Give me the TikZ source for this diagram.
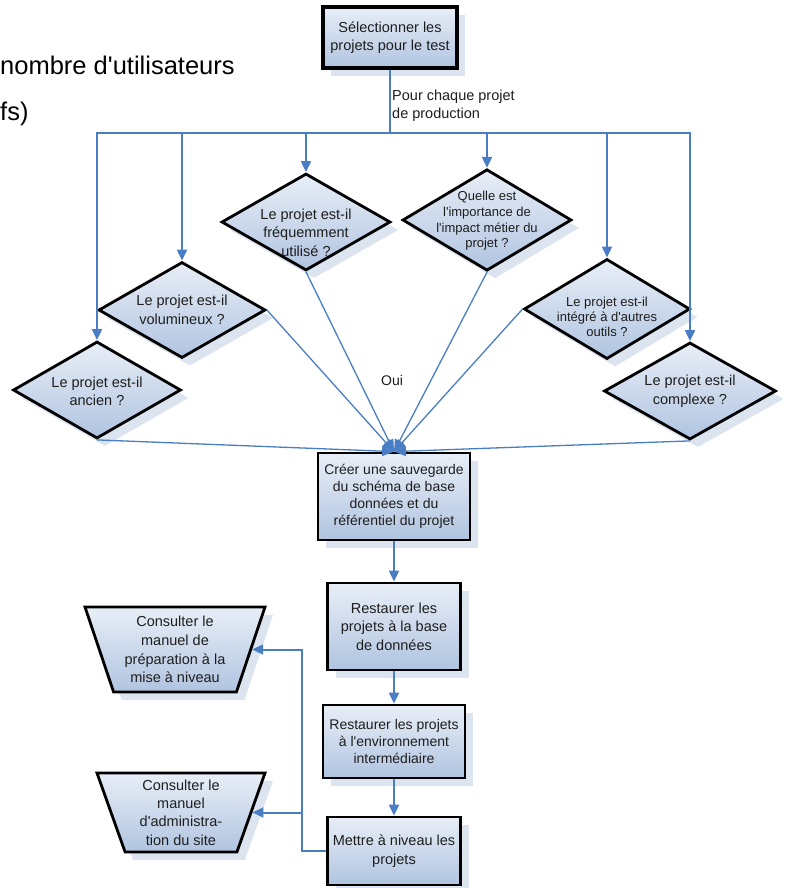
\documentclass[tikz,border=0pt]{standalone}
\usepackage{fontspec}
\setmainfont{Liberation Sans}
\newfontfamily\af{Liberation Sans}
\usetikzlibrary{shapes.geometric,arrows.meta,shadows}
\definecolor{lineblue}{HTML}{4A7EC4}
\definecolor{fillA}{HTML}{E8EEF7}
\definecolor{fillB}{HTML}{B0C4E0}
\definecolor{shadowc}{HTML}{DCE4EF}
\definecolor{txt}{HTML}{1E1E1E}
\newcommand{\myfs}[2]{\af\fontsize{#1}{#2}\selectfont}
\newcommand{\dtxt}[2][2pt]{\smash{\raisebox{\dimexpr-0.25em-#1\relax}{\smash{\begin{tabular}{@{}c@{}}#2\end{tabular}}}}}
\tikzset{
  base/.style={draw=black, line width=2.8pt, top color=fillA, bottom color=fillB, text=txt,
    font=\myfs{14.5}{18.5},
    general shadow={fill=shadowc, shadow xshift=8pt, shadow yshift=-8pt}},
  dia/.style={base, diamond, inner sep=0pt},
  box/.style={base, rectangle, align=center, inner sep=2pt},
  trap/.style={base, trapezium, shape border rotate=180, trapezium left angle=68,
    trapezium right angle=68, trapezium stretches body=true, align=center, inner sep=2pt},
  flow/.style={draw=lineblue, line width=2pt, -{Triangle[width=10pt,length=11pt]}},
  conv/.style={draw=lineblue, line width=1.3pt, -{Triangle[width=10pt,length=12pt]}},
  plain/.style={draw=lineblue, line width=2pt},
  lbl/.style={text=txt, inner sep=0pt}
}
\begin{document}
\begin{tikzpicture}[x=1pt,y=-1pt]
\useasboundingbox (0,0) rectangle (785,888);

% background slide text
\node[lbl, anchor=base west, text=black, font=\myfs{25.5}{30}] (bg1) at (0,75) {nombre d'utilisateurs};
\node[lbl, anchor=base west, text=black, font=\myfs{25.5}{30}] (bg2) at (0,121) {fs)};

% top box
\node[box, line width=3.8pt, minimum width=134pt, minimum height=61pt] (sel) at (390,37.5) {Sélectionner les\\projets pour le test};
\coordinate (hub) at (390,133);
\node[lbl, anchor=west, align=left, font=\myfs{14.5}{18}] (pour) at (392,106) {Pour chaque projet\\de production};

% diamonds
\node[dia, minimum width=168pt, minimum height=97pt] (dA) at (97,390) {\dtxt[3pt]{Le projet est-il\\ancien ?}};
\node[dia, minimum width=167pt, minimum height=96pt] (dB) at (182,310) {\dtxt[1.5pt]{Le projet est-il\\volumineux ?}};
\node[dia, minimum width=169pt, minimum height=97pt] (dC) at (306,222) {\dtxt[12pt]{Le projet est-il\\fréquemment\\utilisé ?}};
\node[dia, font=\myfs{13}{15.7}, minimum width=169pt, minimum height=94pt] (dD) at (487,220) {\dtxt[1pt]{Quelle est\\l'importance de\\l'impact métier du\\projet ?}};
\node[dia, font=\myfs{13}{15.2}, minimum width=166pt, minimum height=97pt] (dE) at (607,309) {\dtxt[9pt]{Le projet est-il\\intégré à d'autres\\outils ?}};
\node[dia, minimum width=172pt, minimum height=97pt] (dF) at (690,391) {\dtxt[0.5pt]{Le projet est-il\\complexe ?}};

% process boxes
\node[box, font=\myfs{14}{17}, minimum width=152pt, minimum height=87pt] (cre) at (394,496.5) {Créer une sauvegarde\\du schéma de base\\données et du\\référentiel du projet};
\node[box, minimum width=133pt, minimum height=87pt] (r1) at (394,626.5) {Restaurer les\\projets à la base\\de données};
\node[box, font=\myfs{14}{17}, minimum width=142pt, minimum height=73pt] (r2) at (394,741.5) {Restaurer les projets\\à l'environnement\\intermédiaire};
\node[box, minimum width=133pt, minimum height=68pt] (r3) at (394,851) {Mettre à niveau les\\projets};

% manuals
\node[trap, font=\myfs{14.5}{18.7}, minimum width=180pt, minimum height=85pt] (t1) at (175,649.5) {Consulter le\\manuel de\\préparation à la\\mise à niveau};
\node[trap, font=\myfs{14.5}{18.3}, minimum width=168pt, minimum height=79pt] (t2) at (181,812.5) {Consulter le\\manuel\\d'administra-\\tion du site};

\node[lbl, font=\myfs{14}{17}] (oui) at (392,380) {Oui};

% connectors
\draw[plain] (sel.south) -- (hub);
\foreach \n in {dA,dB,dC,dD,dE,dF} \draw[flow] (hub) -| (\n.north);

\draw[conv] (dA.south) -- (cre.north);
\draw[conv] (dB.east) -- (cre.north);
\draw[conv] (dC.south) -- (cre.north);
\draw[conv] (dD.south) -- (cre.north);
\draw[conv] (dE.west) -- (cre.north);
\draw[conv] (dF.south) -- (cre.north);

\draw[flow] (cre.south) -- (r1.north);
\draw[flow] (r1.south) -- (r2.north);
\draw[flow] (r2.south) -- (r3.north);

\coordinate (j) at (302,851);
\draw[flow] (r3.west) -- (j) |- (t1.east);
\draw[flow] (r3.west) -- (j) |- (t2.east);
\end{tikzpicture}
\end{document}
